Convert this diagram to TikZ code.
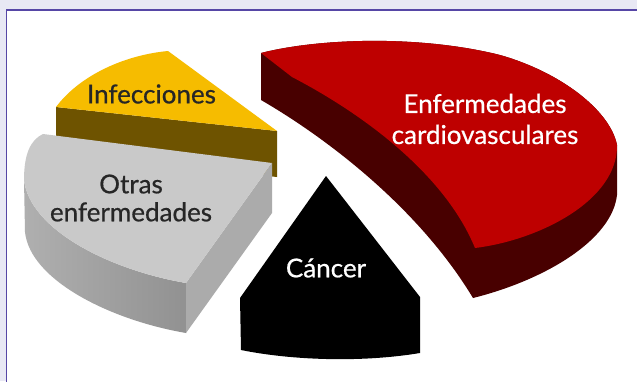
\documentclass[tikz,border=0pt]{standalone}
\usepackage{fontspec}
\setmainfont{Lato}
\newfontfamily\slicefont{Lato}[FakeBold=0.6]
\definecolor{framebg}{HTML}{E8E8F4}
\definecolor{frameline}{HTML}{5646A6}
\definecolor{infectop}{HTML}{F6BC00}
\definecolor{infecside}{HTML}{6E5300}
\definecolor{otrastop}{HTML}{C9C9C9}
\definecolor{otrascut}{HTML}{ABABAB}
\definecolor{cardiotop}{HTML}{BE0000}
\definecolor{cardioside}{HTML}{480000}
\tikzset{
  slicetext/.style={align=center, inner sep=0pt, font=\slicefont\fontsize{26}{28}\selectfont}
}
\begin{document}
\begin{tikzpicture}[x=1pt, y=-1pt]
\useasboundingbox (0,0) rectangle (637,381);
\fill[framebg] (0,0) rectangle (637,381);
\draw[frameline, line width=1.2pt, fill=white] (6.5,10) rectangle (645,390);

% Infecciones
\fill[infecside] (56,107) -- (277,131) -- (277,177) -- (56,153) -- cycle;
\fill[infectop] (56,107) .. controls (80,75) and (125,55) .. (168,51) -- (277,131) -- cycle;

% Otras enfermedades
\shade[left color=otrascut!95!white, right color=otrascut!85!black]
  (24,180) .. controls (30,230) and (110,270) .. (186,283) -- (186,333)
  .. controls (110,320) and (30,280) .. (25,232) -- cycle;
\fill[otrascut] (272,163) -- (186,283) -- (186,333) -- (272,213) -- cycle;
\fill[otrastop] (43,134) -- (272,163) -- (186,283)
  .. controls (110,270) and (30,230) .. (24,180)
  .. controls (24,155) and (30,140) .. (43,134) -- cycle;

% Cancer
\fill[black] (326,176) -- (420,297) -- (420,353)
  .. controls (360,363) and (290,360) .. (241,350) -- (240,298) -- cycle;

% Enfermedades cardiovasculares
\fill[cardioside] (261,53) -- (261,100) .. controls (330,140) and (420,210) .. (473,298)
  .. controls (545,280) and (612,240) .. (617,195) -- (617,145)
  .. controls (610,110) and (560,72) .. (500,55)
  .. controls (420,35) and (320,38) .. (261,53) -- cycle;
\fill[cardiotop] (261,53) -- (292,77) .. controls (365,115) and (445,175) .. (475,248)
  .. controls (540,240) and (618,200) .. (617,145)
  .. controls (610,110) and (560,72) .. (500,55)
  .. controls (420,35) and (320,38) .. (261,53) -- cycle;

\node[slicetext, text=black!85] (infec) at (151.5,94) {Infecciones};
\node[slicetext, text=black!85] (otras) at (131,198) {Otras\\enfermedades};
\node[slicetext, text=white] (cancer) at (326,268) {Cáncer};
\node[slicetext, text=white, font=\slicefont\fontsize{26}{31}\selectfont] (cardio) at (485,119) {Enfermedades\\cardiovasculares};
\end{tikzpicture}
\end{document}
